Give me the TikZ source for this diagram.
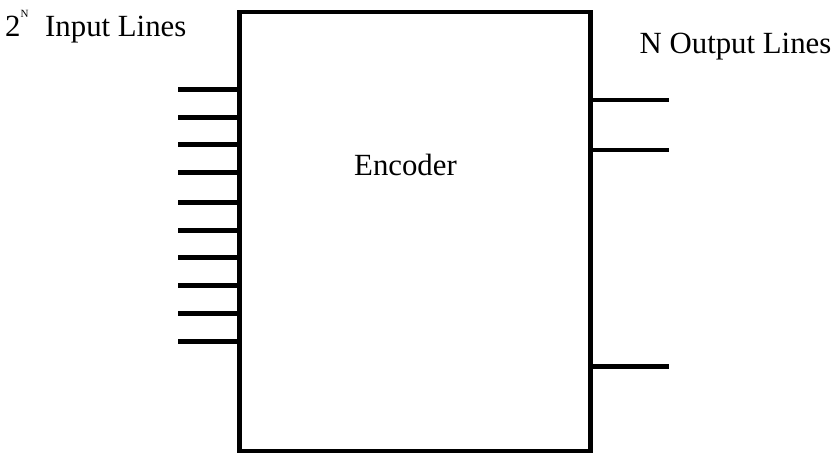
\documentclass[tikz,border=0pt]{standalone}
\usepackage{fontspec}
\setmainfont{Liberation Serif}
\usetikzlibrary{calc}
\begin{document}
\begin{tikzpicture}[x=1pt,y=-1pt,
  wire/.style={line width=4.5pt},
  boxstyle/.style={draw,line width=4.5pt,rectangle,inner sep=0pt,minimum width=351pt,minimum height=439pt},
  big/.style={font=\fontsize{30.8}{36}\selectfont,inner sep=0pt,anchor=base west},
  tiny/.style={font=\fontsize{11}{13}\selectfont,inner sep=0pt,anchor=base west}]
\useasboundingbox (0,0) rectangle (838,460);
\node[boxstyle] (enc) at (415,231.5) {};
\node[big] (enclabel) at (354,175) {Encoder};
\node[big] (inlabel) at (5,37) {2};
\node[tiny] (inexp) at (20.5,18) {N};
\node[big] (inlabel2) at (45,37) {Input Lines};
\node[big] (outlabel) at (639.5,53.5) {N Output Lines};
\foreach \i/\y in {1/89.3,2/117.3,3/144.3,4/172.3,5/202.3,6/230.3,7/257.3,8/285.3,9/313.3,10/341.3}{
  \coordinate (in\i) at (178,\y);
}
\foreach \i in {1,3,4,5,6,7,8,9,10}{
  \draw[wire] (in\i) -- (in\i -| enc.west);
}
\draw[wire] (in2) -- ($(in2 -| enc.west)+(5,0)$);
\foreach \i/\y in {1/100,2/150,3/366.3}{
  \coordinate (out\i) at (669,\y);
  \draw[wire] (out\i -| enc.east) -- (out\i);
}
\end{tikzpicture}
\end{document}
